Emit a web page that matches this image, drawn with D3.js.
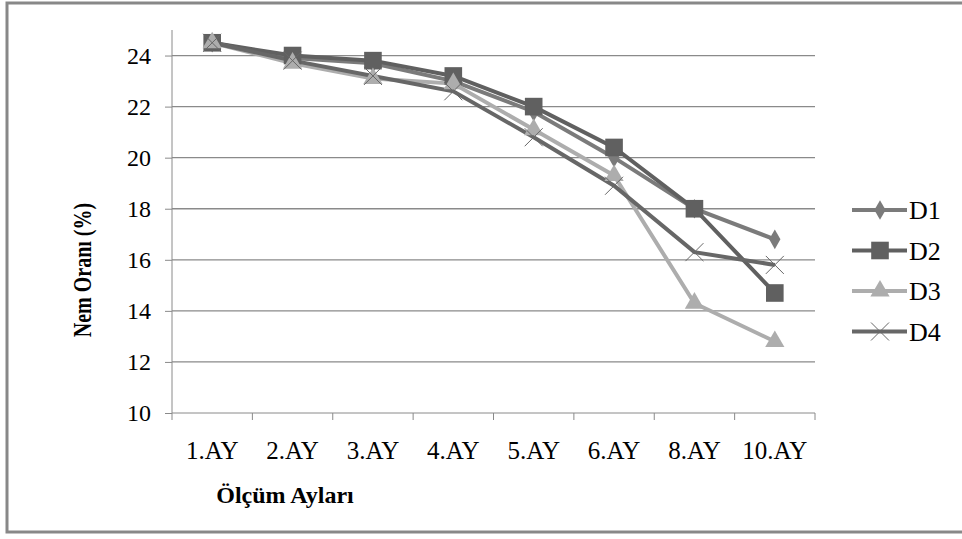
<!DOCTYPE html>
<html>
<head>
<meta charset="utf-8">
<script src="https://cdn.jsdelivr.net/npm/d3@7"></script>
<style>
  body { margin: 0; background: #fff; }
  svg text { font-family: "Times New Roman", "Liberation Serif", "DejaVu Serif", serif; }
</style>
</head>
<body>
<div id="chart"></div>
<script>
// months on the x axis and moisture values (%) per sample
var months = ["1.AY", "2.AY", "3.AY", "4.AY", "5.AY", "6.AY", "8.AY", "10.AY"];
var d1 = [24.5, 23.9, 23.7, 23.0, 21.8, 20.0, 18.0, 16.8];
var d2 = [24.5, 24.0, 23.8, 23.2, 22.0, 20.4, 18.0, 14.7];
var d3v = [24.5, 23.7, 23.1, 22.9, 21.1, 19.3, 14.3, 12.8];
var d4 = [24.5, 23.8, 23.2, 22.6, 20.8, 18.9, 16.3, 15.8];
var yTicks = [10, 12, 14, 16, 18, 20, 22, 24];

var series = [
  { name: "D1", values: d1, color: "#7b7b7b", marker: "diamond" },
  { name: "D2", values: d2, color: "#606060", marker: "square" },
  { name: "D3", values: d3v, color: "#adadad", marker: "triangle" },
  { name: "D4", values: d4, color: "#676767", marker: "x" }
];

var svgWidth = 962, svgHeight = 539;
var margin = { top: 30, right: 147, bottom: 126, left: 172 };
var chartWidth = svgWidth - margin.left - margin.right;
var chartHeight = svgHeight - margin.top - margin.bottom;

var svg = d3.select("#chart").append("svg")
  .attr("width", svgWidth)
  .attr("height", svgHeight);

// outer frame
svg.append("rect")
  .attr("x", 7).attr("y", 3)
  .attr("width", 962).attr("height", 529)
  .attr("fill", "none")
  .attr("stroke", "#888")
  .attr("stroke-width", 3);

var chart = svg.append("g")
  .attr("transform", "translate(" + margin.left + "," + margin.top + ")");

var x = d3.scaleBand().domain(months).range([0, chartWidth]);
var y = d3.scaleLinear().domain([10, 25]).range([chartHeight, 0]);

// gridlines
chart.selectAll(".grid")
  .data(yTicks.slice(1))
  .enter().append("line")
  .attr("x1", 0).attr("x2", chartWidth)
  .attr("y1", function(d) { return y(d); })
  .attr("y2", function(d) { return y(d); })
  .attr("stroke", "#8a8a8a")
  .attr("stroke-width", 1.3);

// y axis
var yAxis = chart.append("g")
  .call(d3.axisLeft(y).tickValues(yTicks).tickSize(7).tickPadding(14));
yAxis.attr("font-family", null);
yAxis.selectAll("text").attr("font-size", 24).attr("fill", "#000");
yAxis.selectAll("line").attr("stroke", "#8a8a8a");
yAxis.select(".domain").attr("stroke", "#8a8a8a").attr("d", "M0," + chartHeight + "V0");

// x axis
var xAxis = chart.append("g")
  .attr("transform", "translate(0," + chartHeight + ")")
  .call(d3.axisBottom(x).tickSize(0).tickPadding(28));
xAxis.attr("font-family", null);
xAxis.selectAll("text").attr("font-size", 25).attr("fill", "#000");
xAxis.select(".domain").attr("stroke", "#8a8a8a").attr("d", "M0,0H" + chartWidth);
chart.selectAll(".xtick")
  .data(months.concat(["end"]))
  .enter().append("line")
  .attr("x1", function(d, i) { return i * x.bandwidth(); })
  .attr("x2", function(d, i) { return i * x.bandwidth(); })
  .attr("y1", chartHeight).attr("y2", chartHeight + 7)
  .attr("stroke", "#8a8a8a");

// axis titles
svg.append("text")
  .attr("transform", "translate(91,270) rotate(-90) scale(1,1.3)")
  .attr("text-anchor", "middle")
  .attr("font-size", 20).attr("font-weight", "bold")
  .text("Nem Oranı (%)");

svg.append("text")
  .attr("x", 285).attr("y", 503)
  .attr("text-anchor", "middle")
  .attr("font-size", 24).attr("font-weight", "bold")
  .text("Ölçüm Ayları");

function markerPath(type) {
  if (type === "diamond") return d3.symbol().type(d3.symbolDiamond).size(110)();
  if (type === "square") return d3.symbol().type(d3.symbolSquare).size(310)();
  if (type === "triangle") return d3.symbol().type(d3.symbolTriangle).size(160)();
  return "M-9,-9L9,9M-9,9L9,-9";
}

function drawMarker(g, s) {
  var p = g.append("path").attr("d", markerPath(s.marker));
  if (s.marker === "x") {
    p.attr("fill", "none").attr("stroke", s.color).attr("stroke-width", 1);
  } else {
    p.attr("fill", s.color);
  }
}

var line = d3.line()
  .x(function(d, i) { return x(months[i]) + x.bandwidth() / 2; })
  .y(function(d) { return y(d); });

series.forEach(function(s) {
  chart.append("path")
    .datum(s.values)
    .attr("d", line)
    .attr("fill", "none")
    .attr("stroke", s.color)
    .attr("stroke-width", 4);
});

series.forEach(function(s) {
  s.values.forEach(function(v, i) {
    var g = chart.append("g")
      .attr("transform", "translate(" + (x(months[i]) + x.bandwidth() / 2) + "," + y(v) + ")");
    drawMarker(g, s);
  });
});

// legend
var legend = svg.append("g").attr("transform", "translate(852,210)");
series.forEach(function(s, i) {
  var g = legend.append("g").attr("transform", "translate(0," + (i * 40.5) + ")");
  g.append("line").attr("x1", 0).attr("x2", 55).attr("y1", 0).attr("y2", 0)
    .attr("stroke", s.color).attr("stroke-width", 4);
  var m = g.append("g").attr("transform", "translate(28,0)");
  drawMarker(m, s);
  g.append("text").attr("x", 57).attr("y", 9)
    .attr("font-size", 26).text(s.name);
});
</script>
</body>
</html>
